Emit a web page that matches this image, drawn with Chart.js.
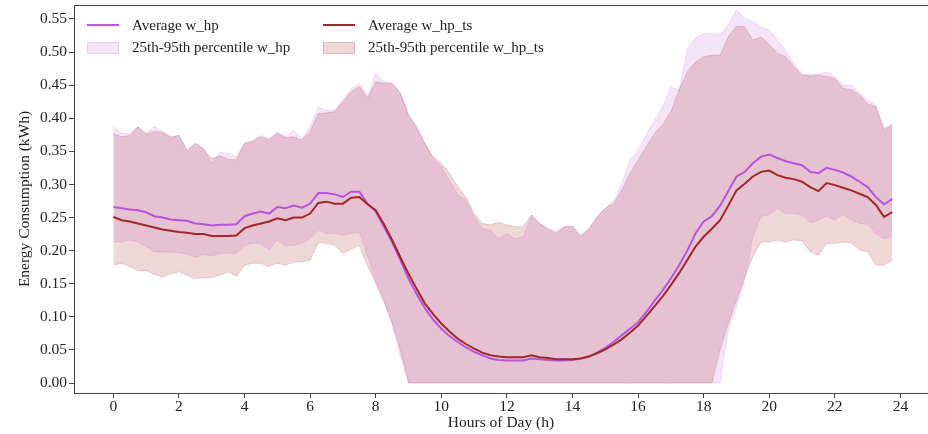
<!DOCTYPE html>
<html lang="en">
<head>
    <meta charset="UTF-8">
    <title>Energy Consumption by Hour</title>
    <script src="https://cdn.jsdelivr.net/npm/chart.js"></script>
    <style>
        body { margin: 0; background: #fff; }
        #wrap { position: relative; width: 928px; height: 434px; }
        #legend {
            position: absolute; left: 87px; top: 14px;
            display: grid; grid-template-columns: 236px auto; grid-auto-rows: 22.5px;
            font-family: "Liberation Serif", serif; font-size: 15px; color: #222;
        }
        .item { display: flex; align-items: center; }
        .swatch { width: 32px; margin-right: 13px; box-sizing: border-box; }
    </style>
</head>
<body>
<div id="wrap">
    <canvas id="chart" width="928" height="434"></canvas>
    <div id="legend"></div>
</div>
<script>
// 15-minute steps over one day
const hours = Array.from({ length: 96 }, (_, i) => i / 4);

const avgHp = [
    0.266, 0.264, 0.262, 0.261, 0.258, 0.252, 0.250, 0.247,
    0.246, 0.245, 0.241, 0.240, 0.238, 0.239, 0.239, 0.240,
    0.252, 0.256, 0.259, 0.256, 0.266, 0.264, 0.268, 0.265,
    0.271, 0.287, 0.287, 0.285, 0.281, 0.289, 0.289, 0.271,
    0.259, 0.236, 0.213, 0.186, 0.158, 0.134, 0.113, 0.096,
    0.082, 0.071, 0.062, 0.054, 0.047, 0.042, 0.037, 0.035,
    0.034, 0.034, 0.034, 0.037, 0.036, 0.035, 0.034, 0.034,
    0.035, 0.037, 0.040, 0.046, 0.053, 0.062, 0.072, 0.082,
    0.092, 0.107, 0.124, 0.140, 0.158, 0.178, 0.200, 0.226,
    0.244, 0.252, 0.268, 0.290, 0.312, 0.319, 0.332, 0.342,
    0.345, 0.340, 0.335, 0.332, 0.329, 0.319, 0.317, 0.325,
    0.322, 0.318, 0.312, 0.304, 0.296, 0.281, 0.270, 0.278
];
const avgTs = [
    0.251, 0.246, 0.244, 0.241, 0.238, 0.235, 0.232, 0.230,
    0.228, 0.227, 0.225, 0.225, 0.222, 0.222, 0.222, 0.223,
    0.234, 0.238, 0.241, 0.244, 0.249, 0.246, 0.250, 0.250,
    0.256, 0.272, 0.274, 0.271, 0.271, 0.280, 0.281, 0.270,
    0.261, 0.240, 0.216, 0.190, 0.165, 0.142, 0.120, 0.104,
    0.090, 0.078, 0.067, 0.059, 0.052, 0.046, 0.042, 0.040,
    0.039, 0.039, 0.039, 0.042, 0.039, 0.038, 0.036, 0.036,
    0.036, 0.037, 0.040, 0.045, 0.051, 0.058, 0.066, 0.076,
    0.087, 0.101, 0.116, 0.131, 0.148, 0.166, 0.186, 0.206,
    0.221, 0.233, 0.246, 0.268, 0.291, 0.301, 0.312, 0.319,
    0.321, 0.314, 0.310, 0.308, 0.304, 0.296, 0.290, 0.302,
    0.299, 0.295, 0.291, 0.286, 0.281, 0.269, 0.251, 0.258
];
const p95Hp = [
    0.387, 0.377, 0.377, 0.387, 0.377, 0.388, 0.380, 0.372,
    0.374, 0.352, 0.362, 0.354, 0.332, 0.349, 0.347, 0.342,
    0.362, 0.367, 0.374, 0.369, 0.380, 0.372, 0.382, 0.369,
    0.387, 0.417, 0.412, 0.412, 0.428, 0.445, 0.452, 0.433,
    0.468, 0.455, 0.453, 0.438, 0.405, 0.389, 0.362, 0.339,
    0.327, 0.307, 0.284, 0.276, 0.251, 0.233, 0.231, 0.218,
    0.226, 0.218, 0.221, 0.254, 0.241, 0.233, 0.225, 0.236,
    0.236, 0.221, 0.233, 0.251, 0.264, 0.275, 0.301, 0.337,
    0.352, 0.375, 0.397, 0.417, 0.447, 0.443, 0.505, 0.521,
    0.528, 0.528, 0.526, 0.541, 0.564, 0.551, 0.546, 0.538,
    0.533, 0.518, 0.503, 0.483, 0.468, 0.465, 0.467, 0.470,
    0.463, 0.450, 0.450, 0.438, 0.428, 0.420, 0.385, 0.392
];
const p95Ts = [
    0.377, 0.372, 0.374, 0.387, 0.376, 0.380, 0.379, 0.371,
    0.374, 0.351, 0.362, 0.353, 0.339, 0.343, 0.338, 0.337,
    0.362, 0.365, 0.372, 0.368, 0.377, 0.371, 0.372, 0.367,
    0.380, 0.407, 0.408, 0.410, 0.425, 0.440, 0.448, 0.430,
    0.455, 0.453, 0.453, 0.438, 0.405, 0.385, 0.362, 0.342,
    0.332, 0.317, 0.297, 0.281, 0.256, 0.241, 0.239, 0.243,
    0.239, 0.236, 0.236, 0.254, 0.241, 0.233, 0.228, 0.236,
    0.237, 0.223, 0.233, 0.251, 0.264, 0.271, 0.291, 0.317,
    0.337, 0.357, 0.377, 0.390, 0.410, 0.443, 0.470, 0.485,
    0.493, 0.495, 0.495, 0.523, 0.539, 0.538, 0.518, 0.523,
    0.511, 0.498, 0.493, 0.478, 0.465, 0.464, 0.465, 0.463,
    0.460, 0.445, 0.443, 0.435, 0.422, 0.417, 0.382, 0.390
];
const p25Hp = [
    0.213, 0.213, 0.216, 0.213, 0.206, 0.198, 0.198, 0.198,
    0.197, 0.195, 0.190, 0.194, 0.192, 0.196, 0.196, 0.196,
    0.208, 0.211, 0.211, 0.201, 0.216, 0.207, 0.208, 0.211,
    0.218, 0.231, 0.226, 0.226, 0.223, 0.226, 0.228, 0.192,
    0.155, 0.125, 0.088, 0.042, 0, 0, 0, 0,
    0, 0, 0, 0, 0, 0, 0, 0,
    0, 0, 0, 0, 0, 0, 0, 0,
    0, 0, 0, 0, 0, 0, 0, 0,
    0, 0, 0, 0, 0, 0, 0, 0,
    0, 0, 0, 0.080, 0.115, 0.155, 0.221, 0.252,
    0.254, 0.264, 0.256, 0.256, 0.254, 0.242, 0.246, 0.252,
    0.246, 0.255, 0.247, 0.241, 0.240, 0.226, 0.218, 0.222
];
const p25Ts = [
    0.178, 0.181, 0.176, 0.170, 0.170, 0.164, 0.160, 0.165,
    0.168, 0.163, 0.158, 0.159, 0.159, 0.163, 0.168, 0.161,
    0.178, 0.181, 0.181, 0.176, 0.181, 0.178, 0.183, 0.183,
    0.186, 0.212, 0.211, 0.208, 0.196, 0.202, 0.208, 0.178,
    0.150, 0.123, 0.092, 0.050, 0, 0, 0, 0,
    0, 0, 0, 0, 0, 0, 0, 0,
    0, 0, 0, 0, 0, 0, 0, 0,
    0, 0, 0, 0, 0, 0, 0, 0,
    0, 0, 0, 0, 0, 0, 0, 0,
    0, 0, 0.050, 0.090, 0.125, 0.160, 0.191, 0.213,
    0.213, 0.216, 0.213, 0.216, 0.215, 0.198, 0.193, 0.211,
    0.211, 0.213, 0.212, 0.201, 0.198, 0.178, 0.178, 0.186
];

const HP_LINE = 'rgb(180, 85, 220)';
const TS_LINE = 'rgb(160, 40, 42)';
const HP_FILL = 'rgba(186, 85, 211, 0.16)';
const TS_FILL = 'rgba(170, 45, 50, 0.19)';

const pts = arr => arr.map((v, i) => ({ x: hours[i], y: v }));
const font = { family: '"Liberation Serif", serif', size: 15.5 };
const AXIS = '#444';

const datasets = [
    { label: 'p25 w_hp', data: pts(p25Hp), borderColor: HP_FILL, borderWidth: 1, fill: false, order: 3 },
    { label: '25th-95th percentile w_hp', data: pts(p95Hp), borderColor: HP_FILL, backgroundColor: HP_FILL,
      borderWidth: 1, fill: '-1', order: 3, legend: 'patch' },
    { label: 'p25 w_hp_ts', data: pts(p25Ts), borderColor: TS_FILL, borderWidth: 1, fill: false, order: 2 },
    { label: '25th-95th percentile w_hp_ts', data: pts(p95Ts), borderColor: TS_FILL, backgroundColor: TS_FILL,
      borderWidth: 1, fill: '-1', order: 2, legend: 'patch' },
    { label: 'Average w_hp', data: pts(avgHp), borderColor: HP_LINE, borderWidth: 2, fill: false, order: 1, legend: 'line' },
    { label: 'Average w_hp_ts', data: pts(avgTs), borderColor: TS_LINE, borderWidth: 2, fill: false, order: 0, legend: 'line' }
];

const topSpine = {
    id: 'topSpine',
    afterDraw(chart) {
        const { ctx, chartArea } = chart;
        ctx.save();
        ctx.strokeStyle = AXIS;
        ctx.lineWidth = 1;
        ctx.beginPath();
        ctx.moveTo(chartArea.left, chartArea.top + 0.5);
        ctx.lineTo(chartArea.right, chartArea.top + 0.5);
        ctx.stroke();
        ctx.restore();
    }
};

const chart = new Chart(document.getElementById('chart'), {
    type: 'line',
    data: { datasets },
    plugins: [topSpine],
    options: {
        responsive: false,
        animation: false,
        layout: { padding: { top: 5, right: 0, left: 0, bottom: 0 } },
        elements: { point: { radius: 0 }, line: { tension: 0 } },
        plugins: { legend: { display: false }, tooltip: { enabled: false } },
        scales: {
            x: {
                type: 'linear',
                min: -1.2, max: 24.84,
                afterFit: s => { s.height = 41; s.paddingLeft = 0; s.paddingRight = 0; },
                ticks: { stepSize: 2, includeBounds: false, font, color: '#222', padding: 0, maxRotation: 0 },
                grid: { drawOnChartArea: false, color: AXIS, tickLength: 5 },
                border: { color: AXIS, width: 1 },
                title: { display: true, text: 'Hours of Day (h)', font, color: '#222', padding: { top: 0, bottom: 2 } }
            },
            y: {
                min: -0.015, max: 0.571,
                afterFit: s => { s.width = 74; s.paddingTop = 0; s.paddingBottom = 0; },
                ticks: { stepSize: 0.05, includeBounds: false, maxTicksLimit: 20, font, color: '#222', padding: 2,
                         callback: v => v.toFixed(2) },
                grid: { drawOnChartArea: false, color: AXIS, tickLength: 5 },
                border: { color: AXIS, width: 1 },
                title: { display: true, text: 'Energy Consumption (kWh)', font, color: '#222', padding: { top: 16, bottom: 0 } }
            }
        }
    }
});

// two-column legend: w_hp on the left, w_hp_ts on the right
const legendEl = document.getElementById('legend');
const order = [4, 5, 1, 3];
order.forEach(i => {
    const ds = chart.data.datasets[i];
    const item = document.createElement('div');
    item.className = 'item';
    const sw = document.createElement('span');
    sw.className = 'swatch';
    if (ds.legend === 'line') {
        sw.style.height = '2px';
        sw.style.background = ds.borderColor;
    } else {
        sw.style.height = '12px';
        sw.style.background = ds.backgroundColor;
        sw.style.border = '1px solid ' + ds.borderColor;
    }
    item.appendChild(sw);
    item.appendChild(document.createTextNode(ds.label));
    legendEl.appendChild(item);
});
</script>
</body>
</html>
